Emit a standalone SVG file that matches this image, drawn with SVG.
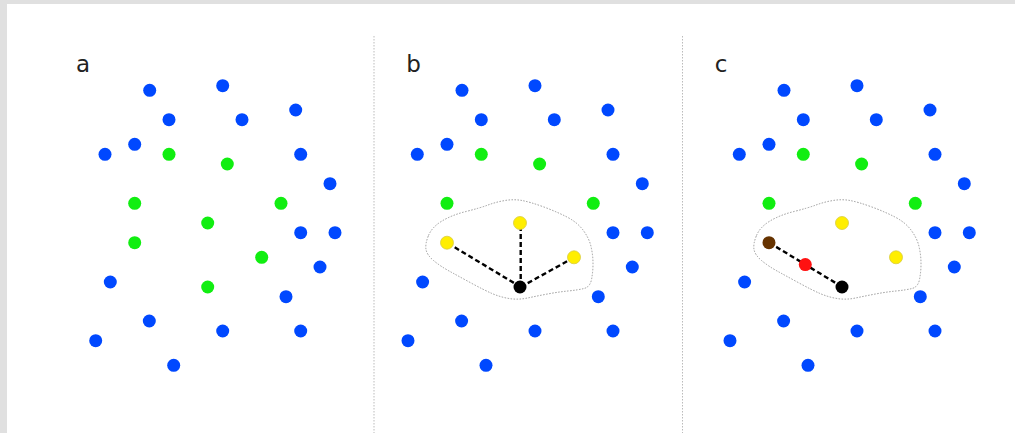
<svg xmlns="http://www.w3.org/2000/svg" width="1015" height="433" viewBox="0 0 1015 433">
<style>
.b{fill:#0048ff}
.g{fill:#11ee11}
.y{fill:#ffee00;stroke:#d8cc40;stroke-width:0.8}
.k{fill:#000}
.br{fill:#663300}
.r{fill:#ff1111}
.lbl{font-family:"DejaVu Sans","Liberation Sans",sans-serif;font-size:23px;fill:#222}
.sep{stroke:#bbbbbb;stroke-width:1;stroke-dasharray:1.5 1.5;fill:none}
.blob{stroke:#999999;stroke-width:1;stroke-dasharray:1.5 1.5;fill:none}
.edge{stroke:#000;stroke-width:2.4;stroke-dasharray:5 3;fill:none}
</style>
<defs>
<path id="blobShape" d="M428.5,235.5 Q432,227 442,221 Q452,215 466,211.5 Q480,208 488,205 Q496,202 505,200.5 Q514,199 522,200.5 Q530,202 542.5,206.5 Q555,211 566,216.5 Q577,222 583,230 Q589,238 591,246.5 Q593,255 593,263.5 Q593,272 591.5,279.5 Q590,287 584,288.5 Q578,290 568,291 Q558,292 547.5,294 Q537,296 527.5,298 Q518,300 509,298.5 Q500,297 492,293.5 Q484,290 472,283.5 Q460,277 450,271.5 Q440,266 433.5,260.5 Q427,255 426,249.5 Q425,244 428.5,235.5 Z"/>
</defs>
<rect x="0" y="0" width="1015" height="433" fill="#e0e0e0"/>
<rect x="7" y="4" width="1008" height="429" fill="#ffffff"/>
<line class="sep" x1="374" y1="36" x2="374" y2="433"/>
<line class="sep" x1="682.5" y1="36" x2="682.5" y2="433"/>
<g id="regions">
<use href="#blobShape" class="blob"/>
<use href="#blobShape" class="blob" transform="translate(328,0)"/>
</g>
<g id="connectors">
<line class="edge" x1="520.7" y1="287" x2="447" y2="242.7"/>
<line class="edge" x1="520.7" y1="287" x2="520.7" y2="223"/>
<line class="edge" x1="520.7" y1="287" x2="574.3" y2="257.3"/>
<line class="edge" x1="769.3" y1="242.7" x2="842.3" y2="287"/>
</g>
<g id="panel-a">
<text class="lbl" x="76" y="72">a</text>
<circle class="b" cx="149.7" cy="90.3" r="6.5"/>
<circle class="b" cx="222.7" cy="85.7" r="6.5"/>
<circle class="b" cx="295.7" cy="110" r="6.5"/>
<circle class="b" cx="169" cy="119.7" r="6.5"/>
<circle class="b" cx="242" cy="119.7" r="6.5"/>
<circle class="b" cx="134.7" cy="144.3" r="6.5"/>
<circle class="b" cx="105" cy="154.3" r="6.5"/>
<circle class="g" cx="169" cy="154.3" r="6.5"/>
<circle class="g" cx="227.3" cy="164" r="6.5"/>
<circle class="b" cx="300.7" cy="154.3" r="6.5"/>
<circle class="b" cx="330" cy="183.7" r="6.5"/>
<circle class="g" cx="134.7" cy="203.3" r="6.5"/>
<circle class="g" cx="281" cy="203.3" r="6.5"/>
<circle class="g" cx="207.7" cy="223" r="6.5"/>
<circle class="b" cx="300.7" cy="232.7" r="6.5"/>
<circle class="b" cx="335" cy="232.7" r="6.5"/>
<circle class="g" cx="134.7" cy="242.7" r="6.5"/>
<circle class="g" cx="261.7" cy="257.3" r="6.5"/>
<circle class="b" cx="320" cy="267" r="6.5"/>
<circle class="b" cx="110.3" cy="282" r="6.5"/>
<circle class="g" cx="207.7" cy="287" r="6.5"/>
<circle class="b" cx="286" cy="296.7" r="6.5"/>
<circle class="b" cx="149.3" cy="321" r="6.5"/>
<circle class="b" cx="222.7" cy="331" r="6.5"/>
<circle class="b" cx="300.7" cy="331" r="6.5"/>
<circle class="b" cx="95.7" cy="340.7" r="6.5"/>
<circle class="b" cx="173.7" cy="365.3" r="6.5"/>
</g>
<g id="panel-b" transform="translate(312.3,0)">
<text class="lbl" x="94" y="72">b</text>
<circle class="b" cx="149.7" cy="90.3" r="6.5"/>
<circle class="b" cx="222.7" cy="85.7" r="6.5"/>
<circle class="b" cx="295.7" cy="110" r="6.5"/>
<circle class="b" cx="169" cy="119.7" r="6.5"/>
<circle class="b" cx="242" cy="119.7" r="6.5"/>
<circle class="b" cx="134.7" cy="144.3" r="6.5"/>
<circle class="b" cx="105" cy="154.3" r="6.5"/>
<circle class="g" cx="169" cy="154.3" r="6.5"/>
<circle class="g" cx="227.3" cy="164" r="6.5"/>
<circle class="b" cx="300.7" cy="154.3" r="6.5"/>
<circle class="b" cx="330" cy="183.7" r="6.5"/>
<circle class="g" cx="134.7" cy="203.3" r="6.5"/>
<circle class="g" cx="281" cy="203.3" r="6.5"/>
<circle class="y" cx="207.7" cy="223" r="6.5"/>
<circle class="b" cx="300.7" cy="232.7" r="6.5"/>
<circle class="b" cx="335" cy="232.7" r="6.5"/>
<circle class="y" cx="134.7" cy="242.7" r="6.5"/>
<circle class="y" cx="261.7" cy="257.3" r="6.5"/>
<circle class="b" cx="320" cy="267" r="6.5"/>
<circle class="b" cx="110.3" cy="282" r="6.5"/>
<circle class="k" cx="207.7" cy="287" r="6.5"/>
<circle class="b" cx="286" cy="296.7" r="6.5"/>
<circle class="b" cx="149.3" cy="321" r="6.5"/>
<circle class="b" cx="222.7" cy="331" r="6.5"/>
<circle class="b" cx="300.7" cy="331" r="6.5"/>
<circle class="b" cx="95.7" cy="340.7" r="6.5"/>
<circle class="b" cx="173.7" cy="365.3" r="6.5"/>
</g>
<g id="panel-c" transform="translate(634.3,0)">
<text class="lbl" x="80.5" y="72">c</text>
<circle class="b" cx="149.7" cy="90.3" r="6.5"/>
<circle class="b" cx="222.7" cy="85.7" r="6.5"/>
<circle class="b" cx="295.7" cy="110" r="6.5"/>
<circle class="b" cx="169" cy="119.7" r="6.5"/>
<circle class="b" cx="242" cy="119.7" r="6.5"/>
<circle class="b" cx="134.7" cy="144.3" r="6.5"/>
<circle class="b" cx="105" cy="154.3" r="6.5"/>
<circle class="g" cx="169" cy="154.3" r="6.5"/>
<circle class="g" cx="227.3" cy="164" r="6.5"/>
<circle class="b" cx="300.7" cy="154.3" r="6.5"/>
<circle class="b" cx="330" cy="183.7" r="6.5"/>
<circle class="g" cx="134.7" cy="203.3" r="6.5"/>
<circle class="g" cx="281" cy="203.3" r="6.5"/>
<circle class="y" cx="207.7" cy="223" r="6.5"/>
<circle class="b" cx="300.7" cy="232.7" r="6.5"/>
<circle class="b" cx="335" cy="232.7" r="6.5"/>
<circle class="br" cx="134.7" cy="242.7" r="6.5"/>
<circle class="y" cx="261.7" cy="257.3" r="6.5"/>
<circle class="r" cx="171" cy="264.6" r="6.5"/>
<circle class="b" cx="320" cy="267" r="6.5"/>
<circle class="b" cx="110.3" cy="282" r="6.5"/>
<circle class="k" cx="207.7" cy="287" r="6.5"/>
<circle class="b" cx="286" cy="296.7" r="6.5"/>
<circle class="b" cx="149.3" cy="321" r="6.5"/>
<circle class="b" cx="222.7" cy="331" r="6.5"/>
<circle class="b" cx="300.7" cy="331" r="6.5"/>
<circle class="b" cx="95.7" cy="340.7" r="6.5"/>
<circle class="b" cx="173.7" cy="365.3" r="6.5"/>
</g>
</svg>
